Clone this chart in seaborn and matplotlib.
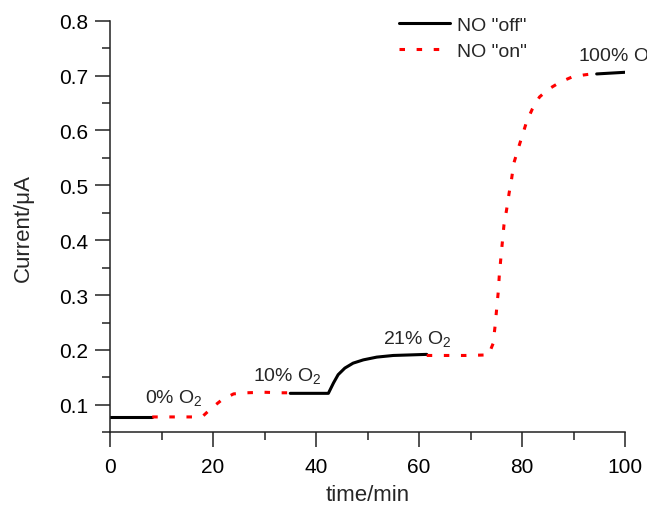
import numpy as np
import pandas as pd
import matplotlib
matplotlib.use("Agg")
import matplotlib.pyplot as plt
from matplotlib.lines import Line2D
from matplotlib.ticker import MultipleLocator
import seaborn as sns

# Measured current trace, split into NO "off" / NO "on" periods
seg1_t = [0.0, 8.2]
seg1_i = [0.078, 0.078]

seg2_t = [8.2, 12.0, 16.0, 18.1, 19.7, 21.7, 24.0, 26.5, 29.8, 33.3, 35.0]
seg2_i = [0.078, 0.078, 0.078, 0.080, 0.094, 0.109, 0.120, 0.122, 0.123, 0.122, 0.122]

seg3_t = [35.0, 38.0, 42.4, 43.4, 44.3, 45.6, 47.2, 49.2, 51.8, 55.0, 58.3, 61.5]
seg3_i = [0.121, 0.121, 0.121, 0.140, 0.155, 0.167, 0.176, 0.182, 0.187, 0.190, 0.191, 0.192]

seg4_t = [61.5, 65.0, 69.0, 73.5, 74.4, 74.8, 75.1, 75.4, 75.6, 75.9, 76.2, 76.5,
          77.0, 77.5, 78.0, 78.4, 79.3, 80.1, 80.9, 82.0, 83.4, 85.1, 87.4,
          89.6, 91.9, 93.5]
seg4_i = [0.190, 0.190, 0.190, 0.191, 0.212, 0.246, 0.277, 0.307, 0.337, 0.368,
          0.398, 0.428, 0.455, 0.486, 0.513, 0.540, 0.568, 0.592, 0.616, 0.639,
          0.661, 0.675, 0.688, 0.697, 0.701, 0.703]

seg5_t = [94.5, 100.0]
seg5_i = [0.703, 0.706]

segments = [
    (seg1_t, seg1_i, "off"),
    (seg2_t, seg2_i, "on"),
    (seg3_t, seg3_i, "off"),
    (seg4_t, seg4_i, "on"),
    (seg5_t, seg5_i, "off"),
]

labels_text = ["0% O$_2$", "10% O$_2$", "21% O$_2$", "100% O$_2$"]
labels_t = [6.8, 27.8, 53.0, 90.9]
labels_i = [0.105, 0.146, 0.213, 0.729]

legend_labels = ['NO "off"', 'NO "on"']

frames = []
for k, (t, i, state) in enumerate(segments):
    frames.append(pd.DataFrame({"time": t, "current": i, "state": state, "seg": k}))
df = pd.concat(frames, ignore_index=True)

sns.set_theme(style="ticks")
plt.rcParams["font.family"] = ["Liberation Sans", "DejaVu Sans"]
plt.rcParams["mathtext.default"] = "regular"

fig = plt.figure(figsize=(6.47, 5.10), dpi=100)
ax = fig.add_axes([110 / 647, (510 - 433.3) / 510, 515 / 647, 411.6 / 510])

line_kw = {
    "off": dict(color="black", linewidth=2.2, linestyle="-"),
    "on": dict(color="#ff0000", linewidth=2.2, linestyle=(0, (1.8, 3.8))),
}

for k, sub in df.groupby("seg"):
    state = sub["state"].iloc[0]
    sns.lineplot(data=sub, x="time", y="current", ax=ax, sort=False,
                 estimator=None, legend=False, **line_kw[state])

for txt, t, i in zip(labels_text, labels_t, labels_i):
    ax.text(t, i, txt, fontsize=14, ha="left", va="baseline", clip_on=False)

handles = [Line2D([], [], **line_kw["off"]), Line2D([], [], **line_kw["on"])]
ax.legend(handles, legend_labels, loc="upper left", bbox_to_anchor=(0.562, 1.01),
          frameon=False, fontsize=14, handlelength=2.6, handletextpad=0.35,
          labelspacing=0.4, borderpad=0, borderaxespad=0)

ax.set_xlim(0, 100)
ax.set_ylim(0.05, 0.8)
ax.xaxis.set_major_locator(MultipleLocator(20))
ax.xaxis.set_minor_locator(MultipleLocator(10))
ax.yaxis.set_minor_locator(MultipleLocator(0.05))
ax.set_yticks([0.1, 0.2, 0.3, 0.4, 0.5, 0.6, 0.7, 0.8])
ax.set_yticklabels(["0.1", "0.2", "0.3", "0.4", "0.5", "0.6", "0.7", "0.8"])

sns.despine(ax=ax)
for side in ("left", "bottom"):
    ax.spines[side].set_linewidth(1.1)
    ax.spines[side].set_color("#222222")
ax.tick_params(which="major", length=10.5, width=1.1, color="#222222",
               labelsize=15, pad=5, direction="out", labelcolor="black")
ax.tick_params(axis="x", which="major", pad=7)
ax.tick_params(which="minor", length=5.5, width=1.1, color="#222222", direction="out")

ax.set_xlabel("time/min", fontsize=16, labelpad=6)
ax.set_ylabel("Current/\u03bcA", fontsize=16, labelpad=18)

fig.savefig("out.png", dpi=100)
